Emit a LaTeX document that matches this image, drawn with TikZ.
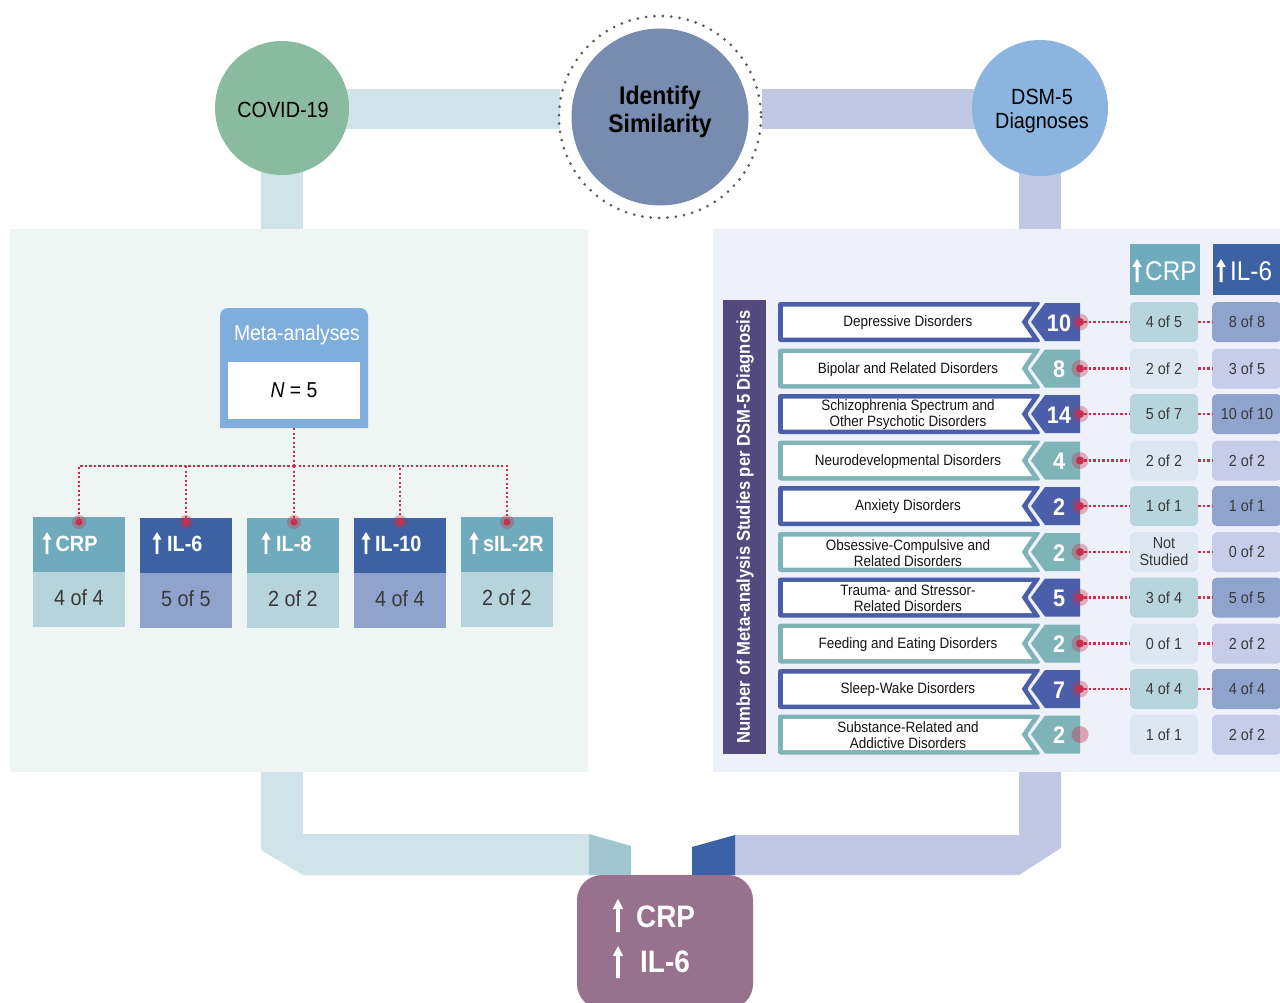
\documentclass[tikz,border=0pt]{standalone}
\usepackage{fontspec}
\setmainfont{Liberation Sans}[FakeStretch=0.9]
\usetikzlibrary{calc}
\definecolor{leftbg}{HTML}{EFF5F3}
\definecolor{rightbg}{HTML}{EEF1FA}
\definecolor{lbar}{HTML}{D0E3E8}
\definecolor{lbarend}{HTML}{A0C6D0}
\definecolor{rbar}{HTML}{C1C8E4}
\definecolor{rbarend}{HTML}{3A62A4}
\definecolor{covidc}{HTML}{8ABBA1}
\definecolor{identc}{HTML}{778CAE}
\definecolor{dsmc}{HTML}{8BB5DF}
\definecolor{ringc}{HTML}{5A5A5A}
\definecolor{metac}{HTML}{7FAEDC}
\definecolor{tealtop}{HTML}{6FABBC}
\definecolor{tealbot}{HTML}{B5D4DB}
\definecolor{bluetop}{HTML}{3C62A4}
\definecolor{bluebot}{HTML}{8FA3CC}
\definecolor{dotred}{HTML}{C8314E}
\definecolor{vbar}{HTML}{54497E}
\definecolor{bannerA}{HTML}{4A5EAA}
\definecolor{bannerB}{HTML}{7EB4B8}
\definecolor{crpcA}{HTML}{B6D5DC}
\definecolor{crpcB}{HTML}{DCE7F1}
\definecolor{ilcA}{HTML}{8FA3CD}
\definecolor{ilcB}{HTML}{C7CDE8}
\definecolor{celltext}{HTML}{3A3A3A}
\definecolor{resc}{HTML}{98718F}
\newcommand\myarrow[6]{\fill[white] ({#1-#4},#3) -- ({#1-#4},{#2+#6}) -- ({#1-#5},{#2+#6}) -- (#1,#2) -- ({#1+#5},{#2+#6}) -- ({#1+#4},{#2+#6}) -- ({#1+#4},#3) -- cycle;}
\newcommand\diagrow[7]{%
  \fill[banner#3, rounded corners=2.5] (778,{#2-20}) -- (1041,{#2-20}) -- (1027,#2) -- (1041,{#2+20}) -- (778,{#2+20}) -- cycle;
  \fill[white] (783,{#2-15.5}) -- (1032,{#2-15.5}) -- (1021.5,#2) -- (1032,{#2+15.5}) -- (783,{#2+15.5}) -- cycle;
  \fill[banner#3] (1045,{#2-19}) -- (1080,{#2-19}) -- (1080,{#2+19}) -- (1045,{#2+19}) -- (1031,#2) -- cycle;
  \node[bannertext] (lab#1) at (908,{#2+1}) {#4};
  \node[numtext] (num#1) at (1059,{#2+1}) {#5};
  \node[cell, fill=crpc#3] (crp#1) at (1164,#2) {#6};
  \node[cell, fill=ilc#3, minimum width=70] (il#1) at (1247,#2) {#7};
}
\begin{document}
\begin{tikzpicture}[x=1pt,y=-1pt,
  bannertext/.style={font=\fontsize{15}{16}\selectfont, align=center, text=black!92, inner sep=0},
  numtext/.style={font=\bfseries\fontsize{24}{24}\selectfont, text=white, inner sep=0},
  cell/.style={minimum width=68, minimum height=40, rounded corners=5, inner sep=0, align=center, font=\fontsize{16}{17}\selectfont, text=celltext},
  reddash/.style={draw=dotred, line width=2.6pt, dash pattern=on 2.3pt off 2.2pt},
  dotring/.style={draw=ringc, line width=3pt, dash pattern=on 0pt off 8.4pt, line cap=round},
  coredot/.style={circle, fill=dotred, minimum size=#1, inner sep=0},
  boxtop/.style={minimum width=92, minimum height=55, inner sep=0, outer sep=0},
  boxbot/.style={minimum width=92, minimum height=55, inner sep=0, outer sep=0, font=\fontsize{22}{22}\selectfont, text=celltext},
  boxlab/.style={anchor=west, inner sep=0, text=white, font=\bfseries\fontsize{22}{22}\selectfont},
  hdrlab/.style={anchor=west, inner sep=0, text=white, font=\fontsize{27}{28}\selectfont},
  reslab/.style={anchor=west, inner sep=0, text=white, font=\bfseries\fontsize{31}{32}\selectfont}
]
\useasboundingbox (0,0) rectangle (1280,1003);
\fill[white] (0,0) rectangle (1280,1003);

% panels
\fill[leftbg] (9.5,229.5) rectangle (588,772);
\fill[rightbg] (713,229.5) rectangle (1280,772);

% top bars
\fill[lbar] (330,89) rectangle (560,129);
\fill[lbar] (261,160) rectangle (303,229.5);
\fill[rbar] (762,89) rectangle (990,129);
\fill[rbar] (1019,160) rectangle (1061,229.5);

% circles
\node[circle, fill=covidc, minimum size=134, inner sep=0] (covid) at (282,108) {};
\node[font=\fontsize{22}{24}\selectfont, inner sep=0] (covidtxt) at (283,110) {COVID-19};
\node[circle, fill=identc, minimum size=177, inner sep=0] (ident) at (660,117) {};
\draw[dotring] (ident.center) circle (101);
\node[font=\bfseries\fontsize{25.5}{28}\selectfont, align=center, inner sep=0] (identtxt) at (660,112) {Identify\\Similarity};
\node[circle, fill=dsmc, minimum size=136, inner sep=0] (dsm) at (1040,108) {};
\node[font=\fontsize{22}{24}\selectfont, align=center, inner sep=0] (dsmtxt) at (1042,111) {DSM-5\\Diagnoses};

% meta-analyses box
\fill[metac] (220,428) [rounded corners=8]-- (220,308) -- (368,308) [sharp corners]-- (368,428) -- cycle;
\node[font=\fontsize{21.5}{22}\selectfont, text=white, inner sep=0] (metatitle) at (297,335) {Meta-analyses};
\node[fill=white, minimum width=132, minimum height=57, inner sep=0] (nbox) at (294,390.5) {\fontsize{21.5}{22}\selectfont{\itshape N} = 5};
\coordinate (metabot) at (294,428);
\coordinate (junc) at (294,466);

% cytokine boxes
\node[boxtop, fill=tealtop] (crptop) at (79,544.5) {};
\node[boxbot, fill=tealbot] (crpbot) at (79,599.5) {\raisebox{3pt}{4 of 4}};
\node[boxtop, fill=bluetop] (il6top) at (186,545.5) {};
\node[boxbot, fill=bluebot] (il6bot) at (186,600.5) {\raisebox{3pt}{5 of 5}};
\node[boxtop, fill=tealtop] (il8top) at (293,545.5) {};
\node[boxbot, fill=tealbot] (il8bot) at (293,600.5) {\raisebox{3pt}{2 of 2}};
\node[boxtop, fill=bluetop] (il10top) at (400,545.5) {};
\node[boxbot, fill=bluebot] (il10bot) at (400,600.5) {\raisebox{3pt}{4 of 4}};
\node[boxtop, fill=tealtop] (sil2top) at (507,544.5) {};
\node[boxbot, fill=tealbot] (sil2bot) at (507,599.5) {\raisebox{3pt}{2 of 2}};

\myarrow{47}{532}{554}{1.4}{4.5}{7.5}
\node[boxlab] (crplab) at (55.5,543.5) {CRP};
\myarrow{157}{532}{554}{1.4}{4.5}{7.5}
\node[boxlab] (il6lab) at (167,543.5) {IL-6};
\myarrow{266}{532}{554}{1.4}{4.5}{7.5}
\node[boxlab] (il8lab) at (276,543.5) {IL-8};
\myarrow{366}{532}{554}{1.4}{4.5}{7.5}
\node[boxlab] (il10lab) at (375,543.5) {IL-10};
\myarrow{474}{532}{554}{1.4}{4.5}{7.5}
\node[boxlab] (sil2lab) at (483,543.5) {sIL-2R};

% red dotted tree
\node[coredot=7] (ld1) at (79,522) {};
\node[coredot=7] (ld2) at (186,522) {};
\node[coredot=7] (ld3) at (294,522) {};
\node[coredot=7] (ld4) at (400,522) {};
\node[coredot=7] (ld5) at (507,522) {};
\draw[reddash] (metabot) -- (junc);
\foreach \d in {ld1,ld2,ld3,ld4,ld5}{
  \draw[reddash] (junc) -| (\d);
  \fill[dotred, opacity=.35] (\d) circle (7);
}

% right panel
\fill[vbar] (723,300) rectangle (766,754);
\node[rotate=90, text=white, font=\bfseries\fontsize{18.5}{20}\selectfont, inner sep=0] (vtitle) at (745,527) {Number of Meta-analysis Studies per DSM-5 Diagnosis};

\node[fill=tealtop, minimum width=70, minimum height=51, inner sep=0] (hcrp) at (1165,269.5) {};
\node[fill=bluetop, minimum width=67, minimum height=51, inner sep=0] (hil) at (1246.5,269.5) {};
\myarrow{1137}{259}{282}{1.5}{4.8}{8}
\node[hdrlab] (hcrplab) at (1145,271) {CRP};
\myarrow{1221}{259}{282}{1.5}{4.8}{8}
\node[hdrlab] (hillab) at (1230,271) {IL-6};

\diagrow{1}{322}{A}{Depressive Disorders}{10}{4 of 5}{8 of 8}
\diagrow{2}{368.5}{B}{Bipolar and Related Disorders}{8}{2 of 2}{3 of 5}
\diagrow{3}{414}{A}{Schizophrenia Spectrum and\\Other Psychotic Disorders}{14}{5 of 7}{10 of 10}
\diagrow{4}{460.5}{B}{Neurodevelopmental Disorders}{4}{2 of 2}{2 of 2}
\diagrow{5}{506}{A}{Anxiety Disorders}{2}{1 of 1}{1 of 1}
\diagrow{6}{552}{B}{Obsessive-Compulsive and\\Related Disorders}{2}{Not\\Studied}{0 of 2}
\diagrow{7}{597.5}{A}{Trauma- and Stressor-\\Related Disorders}{5}{3 of 4}{5 of 5}
\diagrow{8}{643.5}{B}{Feeding and Eating Disorders}{2}{0 of 1}{2 of 2}
\diagrow{9}{689}{A}{Sleep-Wake Disorders}{7}{4 of 4}{4 of 4}
\diagrow{10}{734.5}{B}{Substance-Related and\\Addictive Disorders}{2}{1 of 1}{2 of 2}

\foreach \r/\yy in {1/322,2/368.5,3/414,4/460.5,5/506,6/552,7/597.5,8/643.5,9/689}{
  \node[coredot=8] (rd\r) at (1080,\yy) {};
  \draw[reddash] (rd\r) -- (crp\r);
  \draw[reddash] (crp\r) -- (il\r);
  \fill[dotred, opacity=.35] (rd\r) circle (8.5);
}
\coordinate (rd10) at (1080,734.5);
\fill[dotred, opacity=.4] (rd10) circle (8.5);

% bottom connectors
\fill[lbar] (261,772) -- (303,772) -- (303,834) -- (589,834) -- (589,875) -- (303,875) -- (261,850) -- cycle;
\fill[lbarend] (589,834) -- (631,846) -- (631,875) -- (589,875) -- cycle;
\fill[rbar] (1019,772) -- (1061,772) -- (1061,848) -- (1019,875) -- (735,875) -- (735,835) -- (1019,835) -- cycle;
\fill[rbarend] (692,847) -- (735,835) -- (735,875) -- (692,875) -- cycle;

% result box
\node[fill=resc, rounded corners=25, minimum width=176, minimum height=134, inner sep=0] (result) at (665,942) {};
\myarrow{618}{899}{932}{1.8}{5.2}{10}
\node[reslab] (rescrp) at (636,917) {CRP};
\myarrow{618}{946}{978}{1.8}{5.2}{10}
\node[reslab] (resil) at (640,962) {IL-6};
\end{tikzpicture}
\end{document}
